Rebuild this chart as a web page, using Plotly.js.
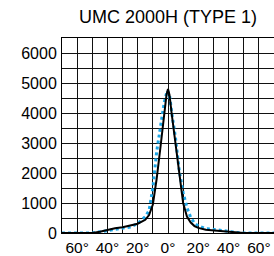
<!DOCTYPE html>
<html>
<head>
<meta charset="utf-8">
<script src="https://cdn.plot.ly/plotly-3.0.1.min.js"></script>
<style>html,body{margin:0;padding:0;background:#fff;}#chart{width:274px;height:256px;}</style>
</head>
<body>
<div id="chart"></div>
<script>
// Angles (degrees) and candela values
const anglesBlack = [-70, -60, -50, -45, -40, -35, -30, -25, -20, -15, -12.5, -10, -7.5, -5, -2.5, -1, 0, 1, 2.5, 5, 7.5, 10, 12.5, 15, 17.5, 20, 25, 30, 35, 40, 45, 50, 60, 70];
const valuesBlack = [0, 0, 0, 40, 110, 160, 190, 240, 310, 440, 600, 950, 1800, 2850, 3950, 4600, 4800, 4600, 3950, 2900, 1900, 1000, 550, 350, 230, 170, 110, 90, 75, 60, 30, 0, 0, 0];

const anglesBlue = [-70, -60, -50, -45, -40, -35, -30, -25, -20, -15, -12.5, -10, -7.5, -5, -2.5, -0.5, 1, 2.5, 5, 7.5, 10, 12.5, 15, 17.5, 20, 25, 30, 35, 40, 45, 50, 60, 70];
const valuesBlue = [0, 0, 0, 40, 80, 120, 150, 200, 310, 550, 750, 1500, 2700, 3600, 4350, 4750, 4600, 4000, 3150, 2050, 1350, 850, 520, 330, 230, 150, 110, 85, 55, 20, 0, 0, 0];

const xTickVals = [-60, -40, -20, 0, 20, 40, 60];
const xTickText = ['60°', '40°', '20°', '0°', '20°', '40°', '60°'];
const yTickVals = [0, 1000, 2000, 3000, 4000, 5000, 6000];
const titleText = 'UMC 2000H (TYPE 1)';

const gridColor = '#111';
const tickFont = {family: 'Liberation Sans, Arial, sans-serif', size: 16, color: '#000'};
const xTickFont = {family: 'Liberation Sans, Arial, sans-serif', size: 15.5, color: '#000'};

const data = [
  {x: anglesBlue, y: valuesBlue, type: 'scatter', mode: 'lines',
   line: {color: '#1ca6e6', width: 3, dash: '3px,3px'}, hoverinfo: 'skip'},
  {x: anglesBlack, y: valuesBlack, type: 'scatter', mode: 'lines',
   line: {color: '#000', width: 2}, hoverinfo: 'skip'}
];

const layout = {
  width: 274, height: 256,
  margin: {l: 62, r: 0, t: 38, b: 23, pad: 0},
  paper_bgcolor: '#fff', plot_bgcolor: '#fff',
  showlegend: false,
  title: {text: titleText, x: 0.5, xref: 'paper', xanchor: 'center', y: 1 - 17/256, yref: 'container', yanchor: 'middle',
          font: {family: 'Liberation Sans, Arial, sans-serif', size: 18, color: '#000'}},
  xaxis: {range: [-70, 70], tickvals: xTickVals, ticktext: xTickText, showgrid: true, gridcolor: gridColor, gridwidth: 1,
          minor: {dtick: 10, tick0: 0, showgrid: true, gridcolor: gridColor, gridwidth: 1},
          showline: true, mirror: true, linecolor: '#000', linewidth: 1, zeroline: false, ticks: '',
          tickfont: xTickFont, fixedrange: true},
  yaxis: {range: [0, 6500], tickvals: yTickVals, showgrid: true, gridcolor: gridColor, gridwidth: 1,
          minor: {dtick: 500, tick0: 0, showgrid: true, gridcolor: gridColor, gridwidth: 1},
          showline: true, mirror: true, linecolor: '#000', linewidth: 1,
          zeroline: true, zerolinecolor: '#000', zerolinewidth: 2.5, ticks: '',
          ticklabelstandoff: 1, tickfont: tickFont, fixedrange: true}
};

Plotly.newPlot('chart', data, layout, {displayModeBar: false, staticPlot: true});
</script>
</body>
</html>
